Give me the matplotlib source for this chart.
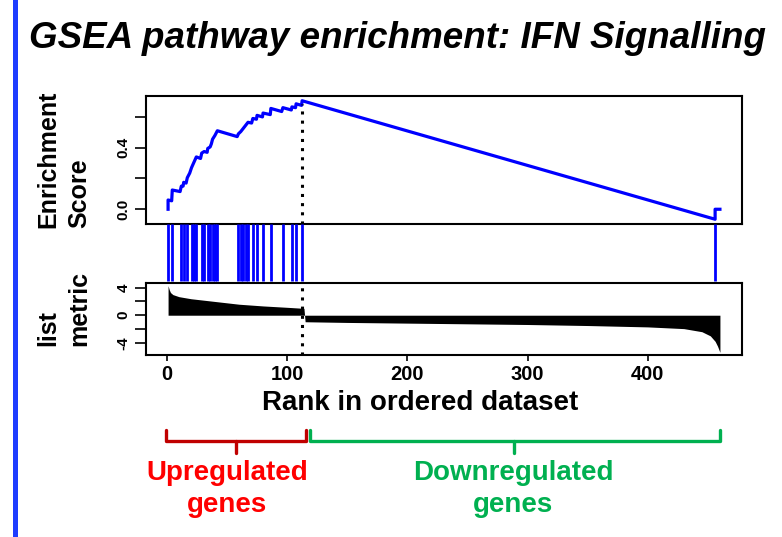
import matplotlib.pyplot as plt
from matplotlib.lines import Line2D
from matplotlib.patches import Rectangle


# ============================================================
# DATI
# ============================================================

# Posizioni dei geni del pathway nella lista ordinata
hit_ranks = [
    1, 4.5, 12, 14, 17, 20.5, 22.5, 24.5, 29, 31,
    34, 36, 38, 40, 42, 59.5, 61.5, 63.5, 65.5, 67.5,
    71.5, 75, 80, 86.5, 96.5, 104, 107.5, 112.5, 456,
]

# Running enrichment score (vertici della curva)
es_ranks = [
    1, 1, 4, 4.5, 11, 12, 13.5, 14, 16, 17,
    19, 20.5, 22.5, 24.5, 28, 29, 31, 33.5, 34, 36,
    37, 38, 40, 42, 58.5, 59.5, 61.5, 63.5, 65.5, 67.5,
    70.5, 71.5, 74.5, 75, 79.5, 80, 86, 86.5, 95.5, 96.5,
    103.5, 104, 107, 107.5, 112, 112.5, 456, 456, 460,
]
es_values = [
    0.00, 0.06, 0.055, 0.125, 0.115, 0.150, 0.150, 0.175, 0.170, 0.205,
    0.235, 0.270, 0.305, 0.340, 0.330, 0.365, 0.375, 0.370, 0.395, 0.405,
    0.425, 0.455, 0.480, 0.510, 0.472, 0.490, 0.505, 0.525, 0.545, 0.565,
    0.560, 0.590, 0.585, 0.610, 0.600, 0.625, 0.615, 0.655, 0.635, 0.660,
    0.645, 0.665, 0.660, 0.685, 0.675, 0.705, -0.065, 0.00, 0.00,
]

# Metrica della lista ordinata (profilo del riempimento)
metric_ranks = [
    1, 2, 3, 5, 10, 20, 30, 45, 60, 80,
    100, 114, 115, 150, 200, 250, 300, 350, 400, 430,
    445, 452, 456, 458, 460,
]
metric_values = [
    4.3, 3.7, 3.3, 3.0, 2.7, 2.4, 2.2, 1.9, 1.6, 1.35,
    1.15, 1.0, -0.95, -1.05, -1.15, -1.25, -1.35, -1.5, -1.7, -1.95,
    -2.4, -3.0, -3.8, -4.5, -5.4,
]

leading_edge = 112.5

x_ticks = [0, 100, 200, 300, 400]
es_ticks = [0.0, 0.2, 0.4, 0.6]
es_tick_labels = ["0.0", "", "0.4", ""]
metric_ticks = [-4, -2, 0, 2, 4]
metric_tick_labels = ["-4", "", "0", "", "4"]


# ============================================================
# STILE
# ============================================================

plt.rcParams["font.family"] = ["Liberation Sans", "DejaVu Sans"]
plt.rcParams["font.weight"] = "bold"

W, H = 782, 537

BLUE = "#0000ff"
FRAME_LW = 1.5


def px_x(value):
    return value / W


def px_y(value):
    return 1 - value / H


def r_limits(values, pad=0.04):
    # stessi margini del 4% usati da R
    low, high = min(values), max(values)
    span = high - low
    return low - pad * span, high + pad * span


figure = plt.figure(figsize=(W / 100, H / 100), dpi=100)

x_limits = r_limits([1, 460])

left = px_x(146)
width = px_x(742) - px_x(146)

ax_es = figure.add_axes([left, px_y(224), width, 128 / H])
ax_hit = figure.add_axes([left, px_y(283), width, 59 / H])
ax_metric = figure.add_axes([left, px_y(355), width, 72 / H])


# ============================================================
# PANNELLO ENRICHMENT SCORE
# ============================================================

ax_es.plot(es_ranks, es_values, color=BLUE, linewidth=2.3)

es_limits = r_limits(es_values)
ax_es.vlines(
    leading_edge,
    es_limits[0],
    max(es_values) - 0.02,
    colors="black",
    linestyles=(0, (1, 2)),
    linewidth=2.2,
)

ax_es.set_xlim(x_limits)
ax_es.set_ylim(es_limits)
ax_es.set_xticks([])
ax_es.set_yticks(es_ticks)
ax_es.set_yticklabels(es_tick_labels, rotation=90, va="center")


# ============================================================
# PANNELLO DEI HIT
# ============================================================

ax_hit.vlines(hit_ranks, 0.04, 1.0, colors=BLUE, linewidth=2.0)
ax_hit.set_xlim(x_limits)
ax_hit.set_ylim(0, 1)
ax_hit.axis("off")


# ============================================================
# PANNELLO DELLA METRICA
# ============================================================

ax_metric.fill_between(
    metric_ranks,
    0,
    metric_values,
    color="black",
    linewidth=0,
)
ax_metric.axvline(
    leading_edge,
    color="black",
    linestyle=(0, (1, 2)),
    linewidth=2.2,
)

ax_metric.set_xlim(x_limits)
ax_metric.set_ylim(r_limits(metric_values))
ax_metric.set_xticks(x_ticks)
ax_metric.set_yticks(metric_ticks)
ax_metric.set_yticklabels(metric_tick_labels, rotation=90, va="center")


for axis in (ax_es, ax_metric):

    for spine in axis.spines.values():
        spine.set_linewidth(FRAME_LW)

    axis.tick_params(
        axis="y",
        direction="out",
        length=8,
        width=1.2,
        labelsize=11,
        pad=3,
    )

ax_metric.tick_params(
    axis="x",
    direction="out",
    length=4,
    width=1.2,
    labelsize=14.5,
    pad=3,
)


# ============================================================
# TESTI
# ============================================================

figure.text(
    px_x(29),
    px_y(48),
    "GSEA pathway enrichment: IFN Signalling",
    fontsize=26.5,
    fontstyle="italic",
    fontweight="bold",
    va="baseline",
)

figure.text(
    px_x(64),
    px_y(228),
    "Enrichment\nScore",
    rotation=90,
    fontsize=18,
    ha="center",
    va="bottom",
    multialignment="left",
    linespacing=1.35,
)

figure.text(
    px_x(64),
    px_y(346),
    "list\nmetric",
    rotation=90,
    fontsize=18,
    ha="center",
    va="bottom",
    multialignment="left",
    linespacing=1.35,
)

figure.text(
    px_x(420),
    px_y(410),
    "Rank in ordered dataset",
    fontsize=20,
    ha="center",
    va="baseline",
)


# ============================================================
# PARENTESI E ETICHETTE DEI GRUPPI
# ============================================================

def draw_bracket(x_start, x_end, x_mid, color):

    y_top, y_line, y_tip = 430, 441, 453

    xs = [x_start, x_start, x_end, x_end]
    ys = [y_top, y_line, y_line, y_top]

    figure.add_artist(
        Line2D(
            [px_x(v) for v in xs],
            [px_y(v) for v in ys],
            color=color,
            linewidth=2.4,
            solid_capstyle="round",
            solid_joinstyle="round",
        )
    )
    figure.add_artist(
        Line2D(
            [px_x(x_mid), px_x(x_mid)],
            [px_y(y_line), px_y(y_tip)],
            color=color,
            linewidth=2.4,
            solid_capstyle="round",
        )
    )


draw_bracket(166, 306, 236, "#c00000")
draw_bracket(310, 720, 514, "#00b050")

figure.text(
    px_x(227),
    px_y(460),
    "Upregulated\ngenes",
    color="#ff0000",
    fontsize=20,
    ha="center",
    va="top",
    linespacing=1.3,
)

figure.text(
    px_x(513),
    px_y(460),
    "Downregulated\ngenes",
    color="#00b050",
    fontsize=20,
    ha="center",
    va="top",
    linespacing=1.3,
)

# barra blu sul bordo sinistro
figure.add_artist(
    Rectangle(
        (px_x(12.5), 0),
        px_x(5),
        1,
        transform=figure.transFigure,
        color="#1e3cff",
        linewidth=0,
    )
)


# ============================================================
# SALVATAGGIO
# ============================================================

figure.savefig("out.png", dpi=100)

plt.close(figure)
